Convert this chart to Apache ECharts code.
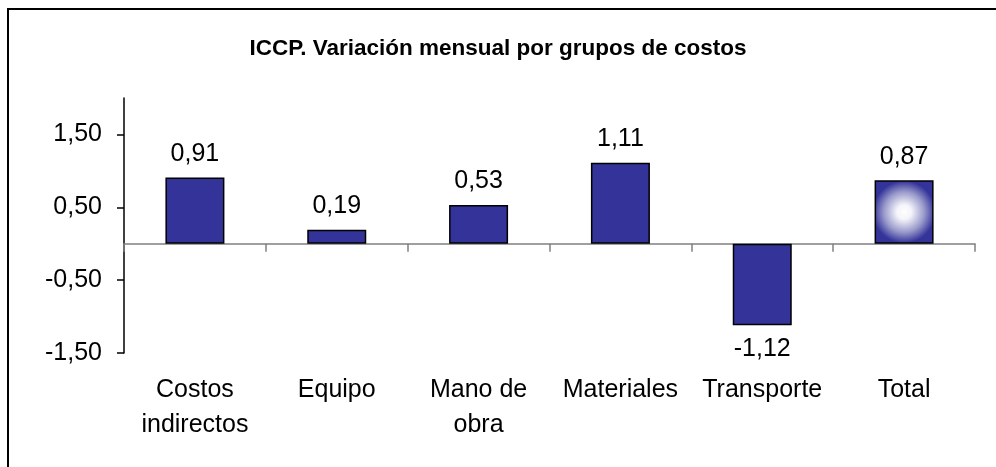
<!DOCTYPE html>
<html>
	<head>
		<meta charset="utf-8">
		<title>ICCP</title>
		<script src="https://cdn.jsdelivr.net/npm/echarts@6/dist/echarts.min.js"></script>
	</head>
	<body style="margin:0;padding:0;background:#fff">
		<div id="chart" style="width: 996px;height:467px;"></div>
	</body>
	<script type="text/javascript">
var categories = ['Costos\nindirectos', 'Equipo', 'Mano de\nobra', 'Materiales', 'Transporte', 'Total'];
var values = [0.91, 0.19, 0.53, 1.11, -1.12, 0.87];
var yTicks = [-1.5, -0.5, 0.5, 1.5];

var font = "'Liberation Sans', Arial, sans-serif";
var barBlue = '#333399';

function fmt(v) {
	return v.toFixed(2).replace('.', ',');
}

var chart = echarts.init(document.getElementById('chart'));

var barData = values.map(function (v, i) {
	var item = {
		value: v,
		label: { position: v < 0 ? 'bottom' : 'top' }
	};
	// the total bar has the white-centred fill
	if (i === values.length - 1) {
		item.itemStyle = {
			color: {
				type: 'radial', x: 0.5, y: 0.5, r: 0.62,
				colorStops: [
					{ offset: 0, color: '#ffffff' },
					{ offset: 0.2, color: '#f4f4fa' },
					{ offset: 0.55, color: '#9a9acc' },
					{ offset: 0.85, color: barBlue },
					{ offset: 1, color: barBlue }
				]
			}
		};
	}
	return item;
});

var option = {
	backgroundColor: '#fff',
	animation: false,
	title: {
		text: 'ICCP. Variación mensual por grupos de costos',
		left: 'center',
		top: 32,
		textStyle: { fontFamily: font, fontSize: 22.5, fontWeight: 'bold', color: '#000' }
	},
	graphic: [{
		type: 'rect',
		shape: { x: 8, y: 9, width: 2000, height: 1000 },
		style: { fill: 'none', stroke: '#000', lineWidth: 2 },
		silent: true
	}],
	grid: { left: 124, right: 21, top: 98, bottom: 114 },
	xAxis: [{
		type: 'category',
		data: categories,
		position: 'bottom',
		axisLine: { show: false, onZero: false },
		axisTick: { show: false },
		axisLabel: {
			fontFamily: font, fontSize: 25, color: '#000',
			lineHeight: 35, margin: 20, interval: 0
		}
	}, {
		type: 'category',
		data: categories,
		position: 'bottom',
		axisLine: { show: true, onZero: true, lineStyle: { color: '#808080', width: 1.5 } },
		axisTick: { show: true, length: 8, lineStyle: { color: '#808080', width: 1.5 } },
		axisLabel: { show: false }
	}],
	yAxis: {
		type: 'value',
		min: -1.5,
		max: 2,
		splitLine: { show: false },
		axisLine: { show: true, lineStyle: { color: '#000', width: 1.5 } },
		axisTick: { show: true, length: 7, customValues: yTicks, lineStyle: { color: '#000', width: 1.5 } },
		axisLabel: {
			customValues: yTicks,
			fontFamily: font, fontSize: 25, color: '#000', margin: 22,
			formatter: function (v) { return fmt(v); }
		}
	},
	series: [{
		type: 'bar',
		xAxisIndex: 0,
		data: barData,
		barWidth: 59,
		itemStyle: { color: barBlue, borderColor: '#000', borderWidth: 1.5 },
		label: {
			show: true,
			distance: 11,
			fontFamily: font, fontSize: 25, color: '#000',
			formatter: function (p) { return fmt(p.value); }
		}
	}]
};
chart.setOption(option);
	</script>
</html>
